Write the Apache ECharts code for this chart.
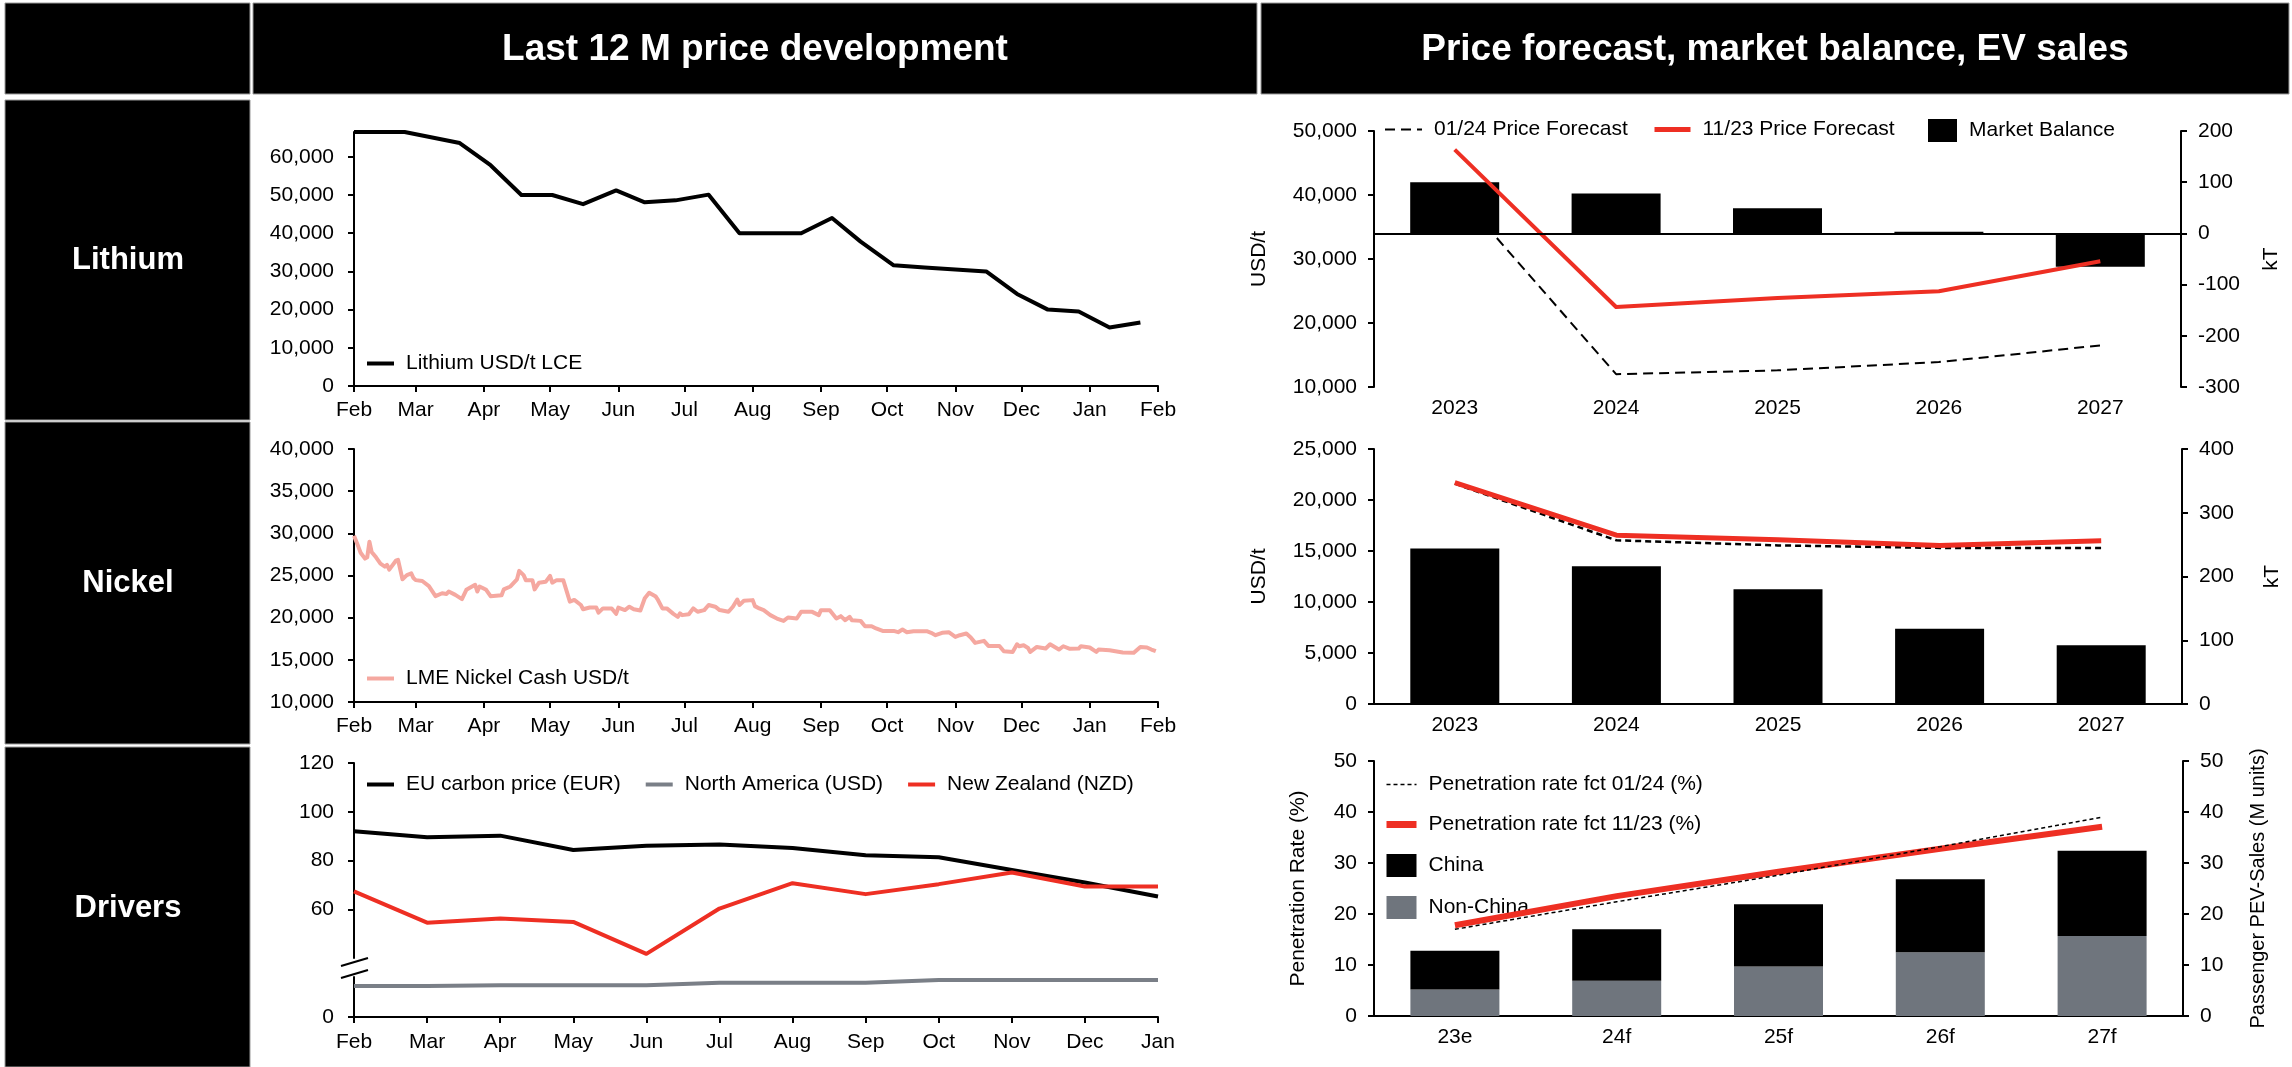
<!DOCTYPE html>
<html>
<head>
<meta charset="utf-8">
<script src="https://cdn.jsdelivr.net/npm/echarts@6/dist/echarts.min.js"></script>
<style>
  html, body { margin: 0; padding: 0; background: #fff; }
  #chart { width: 2292px; height: 1067px; }
</style>
</head>
<body>
<div id="chart"></div>
<script>
const FONT = 'Arial, "Liberation Sans", Helvetica, sans-serif';
const RED = '#EE2F23';
const GREY = '#6F757D';

const monthNames = ['Jan', 'Feb', 'Mar', 'Apr', 'May', 'Jun', 'Jul', 'Aug', 'Sep', 'Oct', 'Nov', 'Dec'];

// --- Last 12 M: lithium (USD/t LCE)
const lithiumDates = ['2023-02-01', '2023-02-24', '2023-03-21', '2023-04-04', '2023-04-18', '2023-05-02',
  '2023-05-16', '2023-05-31', '2023-06-13', '2023-06-27', '2023-07-12', '2023-07-26', '2023-08-09',
  '2023-08-23', '2023-09-06', '2023-09-19', '2023-10-04', '2023-10-18', '2023-11-01', '2023-11-15',
  '2023-11-29', '2023-12-13', '2023-12-27', '2024-01-10', '2024-01-24'];
const lithiumPrices = [66500, 66500, 63600, 57800, 50000, 50000, 47600, 51200, 48100, 48600, 50100, 40000,
  40000, 40000, 44000, 37800, 31600, 31000, 30500, 30000, 24100, 20000, 19500, 15300, 16600];

// --- Last 12 M: LME nickel cash (USD/t)
const nickelDates = ['2023-02-01', '2023-02-03', '2023-02-04', '2023-02-06', '2023-02-07', '2023-02-08',
  '2023-02-09', '2023-02-11', '2023-02-13', '2023-02-15', '2023-02-16', '2023-02-17', '2023-02-20',
  '2023-02-21', '2023-02-23', '2023-02-25', '2023-02-27', '2023-02-28', '2023-03-01', '2023-03-04',
  '2023-03-07', '2023-03-10', '2023-03-13', '2023-03-15', '2023-03-16', '2023-03-19', '2023-03-22',
  '2023-03-24', '2023-03-28', '2023-03-29', '2023-03-30', '2023-04-02', '2023-04-04', '2023-04-09',
  '2023-04-10', '2023-04-13', '2023-04-16', '2023-04-17', '2023-04-19', '2023-04-20', '2023-04-23',
  '2023-04-24', '2023-04-26', '2023-04-29', '2023-05-01', '2023-05-02', '2023-05-04', '2023-05-07',
  '2023-05-10', '2023-05-12', '2023-05-15', '2023-05-16', '2023-05-19', '2023-05-22', '2023-05-23',
  '2023-05-25', '2023-05-29', '2023-05-31', '2023-06-01', '2023-06-04', '2023-06-06', '2023-06-08',
  '2023-06-11', '2023-06-13', '2023-06-15', '2023-06-18', '2023-06-19', '2023-06-21', '2023-06-23',
  '2023-06-26', '2023-06-28', '2023-06-29', '2023-06-30', '2023-07-03', '2023-07-05', '2023-07-07',
  '2023-07-10', '2023-07-12', '2023-07-15', '2023-07-17', '2023-07-21', '2023-07-23', '2023-07-25',
  '2023-07-26', '2023-07-28', '2023-08-01', '2023-08-02', '2023-08-04', '2023-08-06', '2023-08-09',
  '2023-08-12', '2023-08-15', '2023-08-17', '2023-08-21', '2023-08-23', '2023-08-28', '2023-08-31',
  '2023-09-01', '2023-09-05', '2023-09-08', '2023-09-10', '2023-09-12', '2023-09-14', '2023-09-15',
  '2023-09-19', '2023-09-21', '2023-09-24', '2023-09-26', '2023-09-29', '2023-10-04', '2023-10-06',
  '2023-10-08', '2023-10-10', '2023-10-13', '2023-10-19', '2023-10-21', '2023-10-23', '2023-10-26',
  '2023-10-29', '2023-11-01', '2023-11-03', '2023-11-06', '2023-11-08', '2023-11-10', '2023-11-14',
  '2023-11-16', '2023-11-21', '2023-11-23', '2023-11-27', '2023-11-29', '2023-11-30', '2023-12-02',
  '2023-12-04', '2023-12-05', '2023-12-08', '2023-12-12', '2023-12-14', '2023-12-18', '2023-12-20',
  '2023-12-23', '2023-12-27', '2023-12-28', '2024-01-01', '2024-01-04', '2024-01-05', '2024-01-10',
  '2024-01-16', '2024-01-21', '2024-01-24', '2024-01-27', '2024-01-29', '2024-01-31'];
const nickelPrices = [29700, 28400, 27700, 27000, 27150, 29000,
  27800, 27150, 26400, 26050, 26250, 25700, 26750,
  26850, 24550, 25050, 25250, 24700, 24450, 24350,
  23750, 22550, 22900, 22800, 23100, 22700, 22200,
  23300, 23900, 23100, 23700, 23300, 22550, 22650,
  23350, 23700, 24550, 25550, 25050, 24450, 24450,
  23350, 24150, 24250, 24950, 24150, 24450, 24450,
  21900, 22100, 21500, 21000, 21200, 21200, 20600,
  21100, 21100, 20450, 21200, 20900, 21300, 21000,
  20850, 22300, 22950, 22500, 22100, 21100, 21100,
  20450, 20100, 20500, 20300, 20400, 21100, 20700,
  20900, 21500, 21300, 20900, 20700, 21300, 22150,
  21500, 22000, 22080, 21370, 21090, 20890, 20300,
  19900, 19620, 20020, 19900, 20690, 20690, 20300,
  20890, 20890, 19900, 20180, 19700, 20100, 19700,
  19620, 18990, 18990, 18720, 18430, 18430, 18280,
  18600, 18280, 18400, 18400, 18200, 17920, 18200,
  18280, 17720, 17920, 18120, 17650, 17010, 17250,
  16650, 16650, 16020, 15940, 16850, 16610, 16730,
  16410, 15940, 16530, 16340, 16850, 16220, 16610,
  16300, 16340, 16610, 16460, 15940, 16220, 16140,
  15870, 15830, 16530, 16460, 16220, 16020];

// --- Drivers: carbon prices
const driverMonths = ['Feb', 'Mar', 'Apr', 'May', 'Jun', 'Jul', 'Aug', 'Sep', 'Oct', 'Nov', 'Dec', 'Jan'];
const euCarbon = [92.0, 89.5, 90.2, 84.3, 86.1, 86.6, 85.1, 82.2, 81.3, 76.1, 71.0, 65.2];
const newZealand = [67.3, 54.5, 56.2, 54.8, 41.7, 60.3, 70.7, 66.2, 70.3, 75.1, 69.3, 69.3];
const northAmerica = [12.4, 12.4, 12.7, 12.7, 12.7, 13.7, 13.7, 13.7, 14.8, 14.8, 14.8, 14.8];

// --- Forecasts
const forecastYears = ['2023', '2024', '2025', '2026', '2027'];
const liForecast0124 = [40800, 12000, 12600, 13900, 16500];
const liForecast1123 = [47100, 22500, 23900, 24950, 29650];
const liBalance = [100, 78, 49, 3, -65];
const niForecast0124 = [21600, 16050, 15550, 15300, 15300];
const niForecast1123 = [21700, 16550, 16100, 15550, 16000];
const niBalance = [244, 216, 180, 118, 92];

const evYears = ['23e', '24f', '25f', '26f', '27f'];
const penetration0124 = [17.0, 22.4, 27.6, 33.2, 39.0];
const penetration1123 = [17.8, 23.5, 28.3, 32.8, 37.1];
const evChina = [7.6, 10.1, 12.2, 14.3, 16.7];
const evNonChina = [5.2, 6.9, 9.7, 12.5, 15.7];

// local-time parse so month labels line up with the ticks
const toTime = s => {
  const [y, m, d] = s.split('-').map(Number);
  return new Date(y, m - 1, d).getTime();
};
const monthTicks = [];
for (let i = 0; i <= 12; i++) monthTicks.push(new Date(2023, 1 + i, 1).getTime());

const txt = { fontFamily: FONT, fontSize: 21, color: '#000' };
const blackLine = { lineStyle: { color: '#000', width: 2 } };
const fmt = v => Number(v).toLocaleString('en-US');

function monthAxis(gridIndex, margin) {
  return {
    type: 'value', gridIndex, min: monthTicks[0], max: monthTicks[12],
    axisLine: { show: true, ...blackLine },
    axisTick: { show: true, length: 6, customValues: monthTicks, ...blackLine },
    axisLabel: {
      ...txt, margin, customValues: monthTicks, hideOverlap: false,
      formatter: v => monthNames[new Date(v).getMonth()]
    },
    splitLine: { show: false }
  };
}

function catAxis(gridIndex, data, opts) {
  return Object.assign({
    type: 'category', gridIndex, data,
    axisLine: { show: true, ...blackLine },
    axisTick: { show: false },
    axisLabel: { ...txt, margin: 11 },
    splitLine: { show: false }
  }, opts);
}

function valAxis(gridIndex, opts) {
  return Object.assign({
    type: 'value', gridIndex,
    axisLine: { show: true, ...blackLine },
    axisTick: { show: true, length: 6, ...blackLine },
    axisLabel: { ...txt, margin: 17, formatter: fmt },
    splitLine: { show: false },
    nameLocation: 'middle', nameRotate: 90,
    nameTextStyle: { fontFamily: FONT, fontSize: 21, color: '#000' }
  }, opts);
}

function lineSeries(name, x, y, data, color, width, extra) {
  return Object.assign({
    name, type: 'line', xAxisIndex: x, yAxisIndex: y, data,
    symbol: 'none', showSymbol: false,
    lineStyle: { color, width, cap: 'butt', join: 'round' },
    itemStyle: { color }
  }, extra);
}

// legend entries: plain line swatch (no symbol dot) or square box
const lineItem = (name, width) => ({ name, itemStyle: { opacity: 0 }, lineStyle: { width } });
const boxItem = name => ({ name, icon: 'rect' });

function legend(left, top, items, extra) {
  return Object.assign({
    left, top, data: items, padding: 0, itemGap: 23,
    itemWidth: 27, itemHeight: 14,
    textStyle: { ...txt, padding: [0, 0, 0, 7] },
    selectedMode: false
  }, extra);
}

function box(x, y, w, h) {
  return { type: 'rect', shape: { x, y, width: w, height: h }, style: { fill: '#000', stroke: '#9a9a9a', lineWidth: 1 }, z: 0 };
}
function boxText(x, y, text, size) {
  return { type: 'text', x, y, style: { text, fill: '#fff', font: 'bold ' + size + 'px ' + FONT, align: 'center', verticalAlign: 'middle' }, z: 1 };
}

const chart = echarts.init(document.getElementById('chart'), null, { renderer: 'canvas' });

chart.setOption({
  animation: false,
  backgroundColor: '#fff',
  graphic: [
    box(5, 3, 245, 91),
    box(253, 3, 1004, 91),
    box(1261, 3, 1028, 91),
    box(5, 100, 245, 320),
    box(5, 422, 245, 322),
    box(5, 747, 245, 320),
    boxText(755, 50, 'Last 12 M price development', 37),
    boxText(1775, 50, 'Price forecast, market balance, EV sales', 37),
    boxText(128, 260, 'Lithium', 31),
    boxText(128, 583, 'Nickel', 31),
    boxText(128, 908, 'Drivers', 31),
    { type: 'line', shape: { x1: 341, y1: 966, x2: 368, y2: 958 }, style: { stroke: '#000', lineWidth: 2 } },
    { type: 'line', shape: { x1: 341, y1: 978, x2: 368, y2: 970 }, style: { stroke: '#000', lineWidth: 2 } }
  ],
  grid: [
    { left: 354, top: 132, width: 804, height: 254 },
    { left: 354, top: 449, width: 804, height: 253 },
    { left: 354, top: 763, width: 804, height: 195 },
    { left: 354, top: 977, width: 804, height: 40 },
    { left: 1374, top: 131, width: 807, height: 256 },
    { left: 1374, top: 449, width: 808, height: 255 },
    { left: 1374, top: 761, width: 809, height: 255 }
  ],
  xAxis: [
    monthAxis(0, 14),
    monthAxis(1, 14),
    catAxis(2, driverMonths, { boundaryGap: false, show: false }),
    catAxis(3, driverMonths, {
      boundaryGap: false,
      axisTick: { show: true, length: 6, ...blackLine },
      axisLabel: { ...txt, margin: 15 }
    }),
    catAxis(4, forecastYears, { axisLine: { show: false } }),
    catAxis(5, forecastYears),
    catAxis(6, evYears)
  ],
  yAxis: [
    valAxis(0, { min: 0, max: 66500, axisLabel: { ...txt, margin: 20, formatter: fmt, customValues: [0, 10000, 20000, 30000, 40000, 50000, 60000] },
      axisTick: { show: true, length: 6, ...blackLine, customValues: [0, 10000, 20000, 30000, 40000, 50000, 60000] } }),
    valAxis(1, { min: 10000, max: 40000, interval: 5000, axisLabel: { ...txt, margin: 20, formatter: fmt } }),
    valAxis(2, { min: 40, max: 120, axisLabel: { ...txt, margin: 20, customValues: [60, 80, 100, 120] },
      axisTick: { show: true, length: 6, ...blackLine, customValues: [60, 80, 100, 120] } }),
    valAxis(3, { min: 0, max: 16, axisLabel: { ...txt, margin: 20, customValues: [0] },
      axisTick: { show: true, length: 6, ...blackLine, customValues: [0] } }),
    valAxis(4, { min: 10000, max: 50000, interval: 10000, name: 'USD/t', nameGap: 104 }),
    valAxis(4, { position: 'right', min: -300, max: 200, interval: 100, name: 'kT', nameGap: 80 }),
    valAxis(5, { min: 0, max: 25000, interval: 5000, name: 'USD/t', nameGap: 104 }),
    valAxis(5, { position: 'right', min: 0, max: 400, interval: 100, name: 'kT', nameGap: 80 }),
    valAxis(6, { min: 0, max: 50, interval: 10, name: 'Penetration Rate (%)', nameGap: 65 }),
    valAxis(6, { position: 'right', min: 0, max: 50, interval: 10, name: 'Passenger PEV-Sales (M units)', nameGap: 65,
      nameTextStyle: { fontFamily: FONT, fontSize: 20, color: '#000' } })
  ],
  legend: [
    legend(365, 353, [lineItem('Lithium USD/t LCE', 4)]),
    legend(365, 668, [lineItem('LME Nickel Cash USD/t', 4)]),
    legend(365, 774, [lineItem('EU carbon price (EUR)', 4), lineItem('North America (USD)', 4), lineItem('New Zealand (NZD)', 4)]),
    legend(1384, 119, [lineItem('01/24 Price Forecast', 2)], { itemWidth: 37 }),
    legend(1652, 119, [lineItem('11/23 Price Forecast', 5)], { itemWidth: 36 }),
    legend(1928, 119, [boxItem('Market Balance')], { itemWidth: 29, itemHeight: 23 }),
    legend(1383, 774, [lineItem('Penetration rate fct 01/24 (%)', 1.5), lineItem('Penetration rate fct 11/23 (%)', 7),
      boxItem('China'), boxItem('Non-China')],
      { orient: 'vertical', itemWidth: 30, itemHeight: 23, itemGap: 19 })
  ],
  series: [
    lineSeries('Lithium USD/t LCE', 0, 0, lithiumDates.map((d, i) => [toTime(d), lithiumPrices[i]]), '#000', 4),
    lineSeries('LME Nickel Cash USD/t', 1, 1, nickelDates.map((d, i) => [toTime(d), nickelPrices[i]]), '#F5A8A0', 4),
    lineSeries('EU carbon price (EUR)', 2, 2, euCarbon, '#000', 4),
    lineSeries('North America (USD)', 3, 3, northAmerica, '#7A7F87', 4),
    lineSeries('New Zealand (NZD)', 2, 2, newZealand, RED, 4),

    lineSeries('01/24 Price Forecast', 4, 4, liForecast0124, '#000', 2, {
      z: 2, lineStyle: { color: '#000', width: 2, type: [10, 6] }
    }),
    {
      name: 'Market Balance', type: 'bar', xAxisIndex: 4, yAxisIndex: 5, data: liBalance,
      barWidth: 89, itemStyle: { color: '#000' }, z: 3,
      markLine: {
        silent: true, symbol: ['none', 'none'], label: { show: false },
        lineStyle: { color: '#000', width: 2, type: 'solid' },
        data: [{ yAxis: 0 }]
      }
    },
    lineSeries('11/23 Price Forecast', 4, 4, liForecast1123, RED, 4, { z: 4 }),

    {
      name: 'Nickel Market Balance', type: 'bar', xAxisIndex: 5, yAxisIndex: 7, data: niBalance,
      barWidth: 89, itemStyle: { color: '#000' }, z: 3
    },
    lineSeries('Nickel 01/24 Price Forecast', 5, 6, niForecast0124, '#000', 2.5, {
      z: 4, lineStyle: { color: '#000', width: 2.5, type: [6, 4] }
    }),
    lineSeries('Nickel 11/23 Price Forecast', 5, 6, niForecast1123, RED, 5, { z: 5 }),

    {
      name: 'Non-China', type: 'bar', stack: 'ev', xAxisIndex: 6, yAxisIndex: 9, data: evNonChina,
      barWidth: 89, itemStyle: { color: GREY }, z: 3
    },
    {
      name: 'China', type: 'bar', stack: 'ev', xAxisIndex: 6, yAxisIndex: 9, data: evChina,
      barWidth: 89, itemStyle: { color: '#000' }, z: 3
    },
    lineSeries('Penetration rate fct 11/23 (%)', 6, 8, penetration1123, RED, 6, { z: 4 }),
    lineSeries('Penetration rate fct 01/24 (%)', 6, 8, penetration0124, '#000', 1.5, {
      z: 5, lineStyle: { color: '#000', width: 1.5, type: [4, 3] }
    })
  ]
});
</script>
</body>
</html>
